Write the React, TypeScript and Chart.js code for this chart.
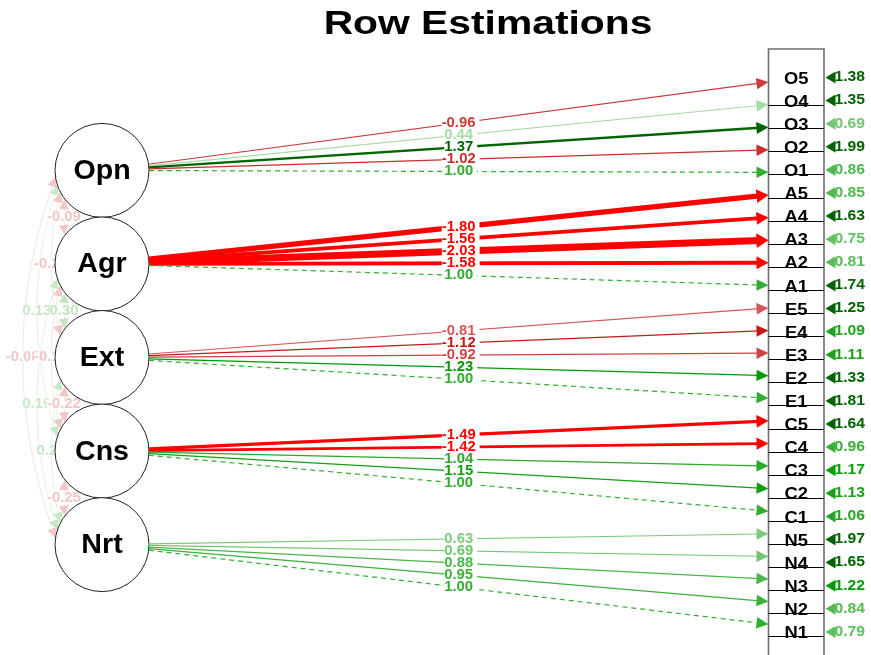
import React, { useEffect, useRef } from "react";
import { Chart, registerables } from "chart.js";

Chart.register(...registerables);

// ---------- data ----------
const chartTitle = "Row Estimations";
const factors = ["Opn", "Agr", "Ext", "Cns", "Nrt"];
const indicators = [
  "O5", "O4", "O3", "O2", "O1",
  "A5", "A4", "A3", "A2", "A1",
  "E5", "E4", "E3", "E2", "E1",
  "C5", "C4", "C3", "C2", "C1",
  "N5", "N4", "N3", "N2", "N1",
];
const indicatorFactor = [0, 0, 0, 0, 0, 1, 1, 1, 1, 1, 2, 2, 2, 2, 2, 3, 3, 3, 3, 3, 4, 4, 4, 4, 4];
const loadings = [
  -0.96, 0.44, 1.37, -1.02, 1.0,
  -1.8, -1.56, -2.03, -1.58, 1.0,
  -0.81, -1.12, -0.92, 1.23, 1.0,
  -1.49, -1.42, 1.04, 1.15, 1.0,
  0.63, 0.69, 0.88, 0.95, 1.0,
];
const fixedLoading = [
  false, false, false, false, true,
  false, false, false, false, true,
  false, false, false, false, true,
  false, false, false, false, true,
  false, false, false, false, true,
];
const residuals = [
  1.38, 1.35, 0.69, 1.99, 0.86,
  0.85, 1.63, 0.75, 0.81, 1.74,
  1.25, 1.09, 1.11, 1.33, 1.81,
  1.64, 0.96, 1.17, 1.13, 1.06,
  1.97, 1.65, 1.22, 0.84, 0.79,
];
const corrFrom = [0, 0, 0, 0, 1, 1, 1, 2, 2, 3];
const corrTo = [1, 2, 3, 4, 2, 3, 4, 3, 4, 4];
const corrValues = [-0.09, -0.21, 0.13, -0.08, 0.3, -0.14, 0.19, -0.22, 0.23, -0.25];

// ---------- style / layout ----------
const CUT = 1.24;
const FONT = "'Liberation Sans', Arial, Helvetica, sans-serif";
const W = 871;
const H = 655;
const CIRCLE_R = 47;
const FACTOR_X = 102;
const BOX_L = 768.5;
const BOX_R = 824;
const factorRow = (j: number) => 4 + 4.05 * j;
const arrowRow = (i: number) => 0.173 + 0.978 * i;

function fmt(v: number) {
  return v.toFixed(2);
}

function edgeColor(v: number) {
  const a = Math.abs(v);
  if (a > CUT) return v > 0 ? "rgb(0,100,0)" : "rgb(255,0,0)";
  const base = v > 0 ? [0, 153, 0] : [191, 0, 0];
  const t = Math.max(a / CUT, 0.22);
  const c = base.map((b) => Math.round(255 - t * (255 - b)));
  return `rgb(${c[0]},${c[1]},${c[2]})`;
}

function edgeWidth(v: number, maxAbs: number) {
  const a = Math.abs(v);
  if (a <= CUT) return 1.2;
  return 1.5 + ((a - CUT) / (maxAbs - CUT)) * 5.5;
}

function stretchText(
  ctx: CanvasRenderingContext2D,
  text: string,
  x: number,
  y: number,
  sx: number,
  align: CanvasTextAlign
) {
  ctx.save();
  ctx.translate(x, y);
  ctx.scale(sx, 1);
  ctx.textAlign = align;
  ctx.textBaseline = "middle";
  ctx.fillText(text, 0, 0);
  ctx.restore();
}

function arrowHead(
  ctx: CanvasRenderingContext2D,
  tx: number,
  ty: number,
  fx: number,
  fy: number,
  len: number,
  hw: number,
  color: string
) {
  const dx = tx - fx;
  const dy = ty - fy;
  const d = Math.hypot(dx, dy) || 1;
  const ux = dx / d;
  const uy = dy / d;
  const bx = tx - ux * len;
  const by = ty - uy * len;
  ctx.save();
  ctx.fillStyle = color;
  ctx.beginPath();
  ctx.moveTo(tx, ty);
  ctx.lineTo(bx - uy * hw, by + ux * hw);
  ctx.lineTo(bx + uy * hw, by - ux * hw);
  ctx.closePath();
  ctx.fill();
  ctx.restore();
}

const diagramPlugin = {
  id: "semDiagram",
  beforeDatasetsDraw(chart: any) {
    const ctx: CanvasRenderingContext2D = chart.ctx;
    const xs = chart.scales.x;
    const ys = chart.scales.y;
    const cx = xs.getPixelForValue(FACTOR_X);
    // covariance arcs between latent factors (drawn beneath the circles)
    const labels: { x: number; y: number; v: number }[] = [];
    corrValues.forEach((v, k) => {
      const a = corrFrom[k];
      const b = corrTo[k];
      const d = b - a;
      const ang = ((48 - 10 * d) * Math.PI) / 180;
      const ya = ys.getPixelForValue(factorRow(a));
      const yb = ys.getPixelForValue(factorRow(b));
      const sx = cx - CIRCLE_R * Math.cos(ang);
      const sy = ya + CIRCLE_R * Math.sin(ang);
      const ex = sx;
      const ey = yb - CIRCLE_R * Math.sin(ang);
      const bulge = 2 + 17 * Math.pow(d - 1, 1.2);
      const ctrlX = sx - bulge;
      const ctrlY = (sy + ey) / 2;
      const col = edgeColor(v);
      ctx.save();
      ctx.strokeStyle = col;
      ctx.globalAlpha = 0.5;
      ctx.lineWidth = 1;
      ctx.beginPath();
      ctx.moveTo(sx, sy);
      ctx.quadraticCurveTo(ctrlX, ctrlY, ex, ey);
      ctx.stroke();
      ctx.restore();
      arrowHead(ctx, sx, sy, ctrlX, ctrlY, 10, 5, col);
      arrowHead(ctx, ex, ey, ctrlX, ctrlY, 10, 5, col);
      const mx = 0.25 * sx + 0.5 * ctrlX + 0.25 * ex;
      const my = 0.25 * sy + 0.5 * ctrlY + 0.25 * ey;
      labels.push({ x: mx, y: my, v });
    });
    ctx.font = `bold 14px ${FONT}`;
    labels.forEach((l) => {
      const t = fmt(l.v);
      const w = ctx.measureText(t).width * 1.06;
      ctx.fillStyle = "#ffffff";
      ctx.fillRect(l.x - w / 2, l.y - 5, w + 2, 10);
      ctx.fillStyle = edgeColor(l.v);
      stretchText(ctx, t, l.x, l.y, 1.06, "center");
    });
  },
  afterDatasetsDraw(chart: any) {
    const ctx: CanvasRenderingContext2D = chart.ctx;
    const xs = chart.scales.x;
    const ys = chart.scales.y;
    const cx = xs.getPixelForValue(FACTOR_X);
    const bl = xs.getPixelForValue(BOX_L);
    const br = xs.getPixelForValue(BOX_R);
    const maxAbs = Math.max(...loadings.map((v) => Math.abs(v)));

    // title
    ctx.fillStyle = "#000";
    ctx.font = `bold 34px ${FONT}`;
    stretchText(ctx, chartTitle, xs.getPixelForValue(488), ys.getPixelForValue(-2.29), 1.2, "center");

    // factor names
    ctx.font = `bold 27px ${FONT}`;
    factors.forEach((f, j) => {
      stretchText(ctx, f, cx, ys.getPixelForValue(factorRow(j)) + 1, 1.06, "center");
    });

    // indicator box
    const boxTop = ys.getPixelForValue(-1.255);
    ctx.save();
    ctx.strokeStyle = "#6e6e6e";
    ctx.lineWidth = 1.6;
    ctx.beginPath();
    ctx.moveTo(bl, H + 5);
    ctx.lineTo(bl, boxTop);
    ctx.lineTo(br, boxTop);
    ctx.lineTo(br, H + 5);
    ctx.stroke();
    ctx.strokeStyle = "#000";
    ctx.lineWidth = 1;
    indicators.forEach((_, i) => {
      if (i === 0) return;
      const y = Math.round(ys.getPixelForValue(i)) + 4.5;
      ctx.beginPath();
      ctx.moveTo(bl, y);
      ctx.lineTo(br, y);
      ctx.stroke();
    });
    ctx.restore();

    // indicator names
    ctx.fillStyle = "#000";
    ctx.font = `bold 17px ${FONT}`;
    indicators.forEach((n, i) => {
      stretchText(ctx, n, (bl + br) / 2, ys.getPixelForValue(i) + 1, 1.08, "center");
    });

    // loadings: lines
    const geo = loadings.map((v, i) => {
      const fy = ys.getPixelForValue(factorRow(indicatorFactor[i]));
      const tx = bl;
      const ty = ys.getPixelForValue(arrowRow(i));
      const dx = tx - cx;
      const dy = ty - fy;
      const d = Math.hypot(dx, dy);
      const sx = cx + (CIRCLE_R * dx) / d;
      const sy = fy + (CIRCLE_R * dy) / d;
      return { sx, sy, tx, ty, ux: dx / d, uy: dy / d, v, w: edgeWidth(v, maxAbs), col: edgeColor(v) };
    });
    geo.forEach((g, i) => {
      ctx.save();
      ctx.strokeStyle = g.col;
      ctx.lineWidth = g.w;
      if (fixedLoading[i]) ctx.setLineDash([5, 4]);
      ctx.beginPath();
      ctx.moveTo(g.sx, g.sy);
      ctx.lineTo(g.tx - g.ux * 9, g.ty - g.uy * 9);
      ctx.stroke();
      ctx.restore();
    });
    // loadings: labels
    ctx.font = `bold 14px ${FONT}`;
    geo.forEach((g) => {
      const mx = (g.sx + g.tx) / 2;
      const my = (g.sy + g.ty) / 2;
      const t = fmt(g.v);
      const w = ctx.measureText(t).width * 1.06;
      ctx.fillStyle = "#fff";
      ctx.fillRect(mx - w / 2, my - 5, w + 4, 10);
      ctx.fillStyle = g.col;
      stretchText(ctx, t, mx, my, 1.06, "center");
    });
    // loadings: arrowheads
    geo.forEach((g) => {
      arrowHead(ctx, g.tx, g.ty, g.sx, g.sy, 12, 5.4 + g.w * 0.28, g.col);
    });

    // residual variances
    ctx.font = `bold 14px ${FONT}`;
    residuals.forEach((v, i) => {
      const y = ys.getPixelForValue(i) - 0.5;
      const col = edgeColor(v);
      arrowHead(ctx, br + 1.5, y, br + 20, y, 10, 6, col);
      ctx.fillStyle = col;
      stretchText(ctx, fmt(v), br + 10.5, y, 1.12, "left");
    });
  },
};

export default function App() {
  const ref = useRef<HTMLCanvasElement | null>(null);
  useEffect(() => {
    const canvas = ref.current;
    if (!canvas) return;
    const chart = new Chart(canvas, {
      type: "scatter",
      data: {
        datasets: [
          {
            label: "factors",
            data: factors.map((_, j) => ({ x: FACTOR_X, y: factorRow(j) })),
            pointRadius: CIRCLE_R,
            pointHoverRadius: CIRCLE_R,
            pointBackgroundColor: "#ffffff",
            pointBorderColor: "#222222",
            pointBorderWidth: 1,
            clip: false as any,
          },
        ],
      },
      options: {
        responsive: false,
        devicePixelRatio: 1,
        animation: false,
        events: [],
        layout: { padding: 0, autoPadding: false } as any,
        plugins: { legend: { display: false }, tooltip: { enabled: false }, title: { display: false } },
        scales: {
          x: { type: "linear", display: false, min: 0, max: W },
          y: { type: "linear", display: false, min: -78 / 23.1, max: (H - 78) / 23.1, reverse: true },
        },
      },
      plugins: [diagramPlugin],
    });
    return () => chart.destroy();
  }, []);
  return (
    <div style={{ position: "absolute", left: 0, top: 0, width: W, height: H, background: "#fff" }}>
      <canvas ref={ref} width={W} height={H} style={{ width: W, height: H, display: "block" }} />
    </div>
  );
}
